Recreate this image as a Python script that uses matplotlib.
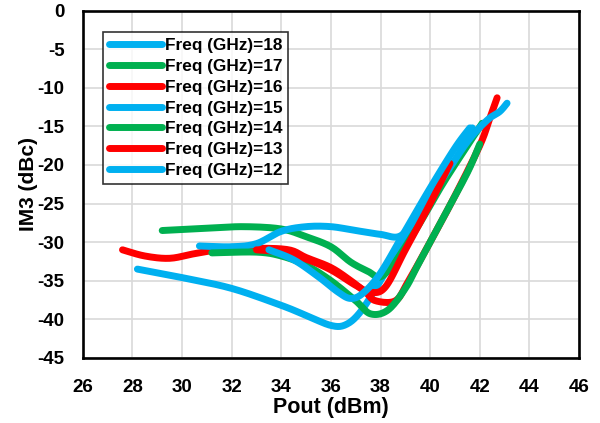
import numpy as np
import matplotlib
matplotlib.use("Agg")
import matplotlib.pyplot as plt

plt.rcParams['font.family'] = ['Liberation Sans', 'DejaVu Sans']
plt.rcParams['axes.unicode_minus'] = False

BLUE = '#00B0F0'
GREEN = '#00B050'
RED = '#FF0000'

freqs = [18, 17, 16, 15, 14, 13, 12]
colors = [BLUE, GREEN, RED, BLUE, GREEN, RED, BLUE]

pout_18 = [28.2, 30.0, 32.0, 34.0, 35.0, 36.0, 36.6, 37.2, 38.0, 39.0, 40.0, 41.0, 41.7]
im3_18 = [-33.5, -34.6, -36.0, -38.2, -39.5, -40.8, -40.7, -39.0, -35.0, -29.5, -24.5, -19.5, -15.2]

pout_17 = [29.2, 31.0, 32.5, 34.0, 35.0, 36.0, 36.8, 37.5, 38.0, 38.6, 39.5, 40.5, 41.5, 42.1]
im3_17 = [-28.5, -28.2, -28.0, -28.3, -29.3, -30.6, -32.6, -33.8, -34.5, -32.5, -28.0, -22.5, -17.5, -14.6]

pout_16 = [27.6, 28.5, 29.5, 30.5, 31.5, 33.0, 34.3, 35.0, 36.0, 36.8, 37.4, 37.8, 38.6, 39.1, 40.0, 41.0, 42.0, 42.4, 42.7]
im3_16 = [-31.0, -31.8, -32.1, -31.5, -31.0, -30.8, -31.0, -32.0, -33.3, -35.0, -36.5, -37.6, -37.6, -35.2, -30.0, -24.0, -17.5, -14.0, -11.3]

pout_15 = [30.7, 32.0, 33.0, 34.0, 35.0, 36.0, 37.0, 38.0, 38.8, 39.5, 40.5, 41.5, 42.3, 42.8, 43.1]
im3_15 = [-30.5, -30.6, -30.2, -28.6, -28.0, -28.0, -28.5, -29.0, -29.2, -26.5, -21.8, -17.0, -14.2, -13.1, -12.0]

pout_14 = [31.2, 33.0, 34.0, 35.0, 36.0, 37.0, 37.6, 38.3, 39.0, 39.5, 40.5, 41.5, 42.0]
im3_14 = [-31.4, -31.3, -31.8, -33.0, -35.0, -37.6, -39.3, -38.8, -36.0, -33.0, -27.0, -21.0, -17.3]

pout_13 = [33.0, 34.0, 35.0, 36.0, 37.0, 37.6, 38.2, 39.0, 40.0, 40.8]
im3_13 = [-31.0, -31.3, -32.2, -33.6, -35.6, -36.5, -35.8, -31.0, -25.0, -19.8]

pout_12 = [33.5, 34.5, 35.5, 36.3, 36.8, 37.3, 38.0, 39.0, 40.0, 41.0, 41.6]
im3_12 = [-31.0, -32.3, -34.5, -36.5, -37.3, -36.6, -34.0, -28.5, -23.0, -17.8, -15.2]

series = [
    (pout_18, im3_18), (pout_17, im3_17), (pout_16, im3_16), (pout_15, im3_15),
    (pout_14, im3_14), (pout_13, im3_13), (pout_12, im3_12),
]

x_ticks = list(range(26, 47, 2))
y_ticks = list(range(-45, 1, 5))


def smooth(x, y, n=12):
    """Catmull-Rom path through the points, like a smoothed spreadsheet line."""
    p = np.column_stack([x, y]).astype(float)
    p = np.vstack([p[0], p, p[-1]])
    out = []
    t = np.linspace(0, 1, n, endpoint=False)[:, None]
    for i in range(1, len(p) - 2):
        p0, p1, p2, p3 = p[i - 1], p[i], p[i + 1], p[i + 2]
        seg = 0.5 * ((2 * p1) + (-p0 + p2) * t + (2 * p0 - 5 * p1 + 4 * p2 - p3) * t ** 2
                     + (-p0 + 3 * p1 - 3 * p2 + p3) * t ** 3)
        out.append(seg)
    out.append(p[-2][None, :])
    out = np.vstack(out)
    return out[:, 0], out[:, 1]


fig = plt.figure(figsize=(6.0, 4.23), dpi=100)
ax = fig.add_axes([0.138, 0.154, 0.827, 0.821])

for (px, py), f, c in zip(series, freqs, colors):
    sx, sy = smooth(px, py)
    ax.plot(sx, sy, color=c, lw=5.0, solid_capstyle='round', solid_joinstyle='round',
            label=f'Freq (GHz)={f}')

ax.set_xlim(26, 46)
ax.set_ylim(-45, 0)
ax.set_xticks(x_ticks)
ax.set_yticks(y_ticks)
ax.grid(True, color='#D9D9D9', lw=1.2)
ax.set_axisbelow(True)
for s in ax.spines.values():
    s.set_color('black')
    s.set_linewidth(1.9)
ax.tick_params(length=0, labelsize=13.5)
ax.tick_params(axis='x', pad=15)
ax.tick_params(axis='y', pad=13)
for lab in ax.get_xticklabels() + ax.get_yticklabels():
    lab.set_fontweight('bold')

ax.set_xlabel('Pout (dBm)', fontsize=15.5, fontweight='bold', labelpad=1)
ax.set_ylabel('IM3 (dBc)', fontsize=15, fontweight='bold', labelpad=0)

leg = ax.legend(loc='upper left', bbox_to_anchor=(0.04, 0.939),
                prop={'weight': 'bold', 'size': 12.4}, frameon=True, fancybox=False,
                handlelength=3.1, handletextpad=0.15, labelspacing=0.34,
                borderpad=0.35, borderaxespad=0)
leg.get_frame().set_edgecolor('black')
leg.get_frame().set_linewidth(1.2)

fig.savefig('out.png', dpi=100)
